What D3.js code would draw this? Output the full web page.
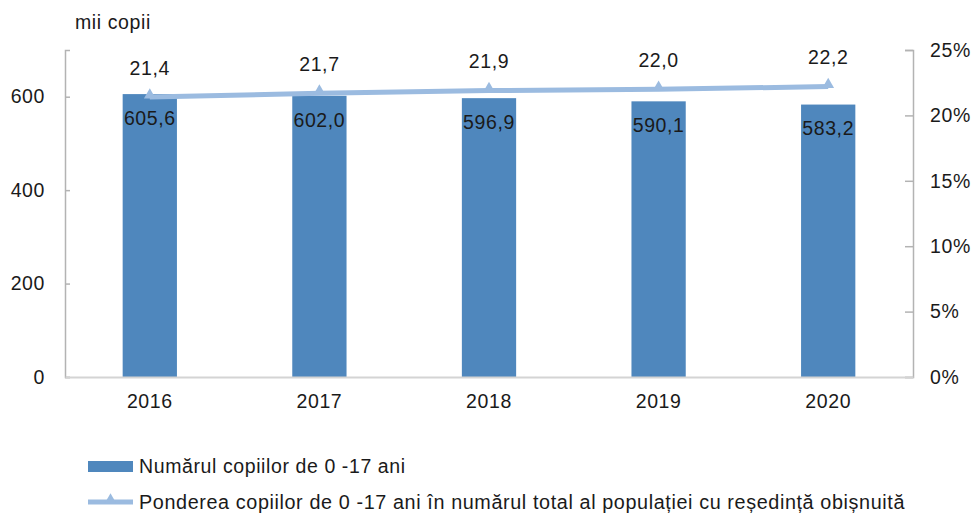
<!DOCTYPE html>
<html>
<head>
<meta charset="utf-8">
<script src="https://cdn.jsdelivr.net/npm/d3@7"></script>
<style>
  body { margin: 0; background: #fff; }
  svg text { font-family: "Liberation Sans", Arial, sans-serif; fill: #1a1a1a; letter-spacing: 0.6px; }
</style>
</head>
<body>
<svg id="chart" width="973" height="514"></svg>
<script>
// data
let years = ["2016", "2017", "2018", "2019", "2020"];
let children = [605.6, 602.0, 596.9, 590.1, 583.2];   // mii copii
let share = [21.4, 21.7, 21.9, 22.0, 22.2];           // %
let leftTicks = [0, 200, 400, 600];
let rightTicks = [0, 5, 10, 15, 20, 25];
let barLabel = "Numărul copiilor de 0 -17 ani";
let lineLabel = "Ponderea copiilor de 0 -17 ani în numărul total al populației cu reședință obișnuită";

let svg = d3.select("#chart");
let margin = {top: 50, right: 60, bottom: 137, left: 65};
let width = 973, height = 514;
let fs = 19.5;
let fmt = v => v.toFixed(1).replace(".", ",");

let x = d3.scaleBand()
          .domain(years)
          .range([margin.left, width - margin.right])
          .paddingInner(0.68)
          .paddingOuter(0.34);

let y = d3.scaleLinear()
          .domain([0, 700])
          .range([height - margin.bottom, margin.top]);

let y2 = d3.scaleLinear()
           .domain([0, 25])
           .range([height - margin.bottom, margin.top]);

// bars
svg.append("g").selectAll("rect")
   .data(children)
   .join("rect")
   .attr("x", (d, i) => x(years[i]))
   .attr("y", d => y(d))
   .attr("width", x.bandwidth())
   .attr("height", d => y(0) - y(d))
   .attr("fill", "#4f87bd");

// axes
let leftAxis = svg.append("g")
   .attr("transform", `translate(${margin.left},0)`)
   .call(d3.axisLeft(y).tickValues(leftTicks).tickSize(-5));
let rightAxis = svg.append("g")
   .attr("transform", `translate(${width - margin.right},0)`)
   .call(d3.axisRight(y2).tickValues(rightTicks).tickSize(-8).tickFormat(d => d + "%"));
[leftAxis, rightAxis].forEach(function(a) {
  a.select(".domain").attr("stroke", "#b3b3b3").attr("stroke-width", 1.5);
  a.selectAll(".tick line").attr("stroke", "#b3b3b3").attr("stroke-width", 1.5);
  a.selectAll(".tick text").attr("font-size", fs).attr("fill", "#1a1a1a");
});
leftAxis.selectAll(".tick text").attr("x", -20);
rightAxis.selectAll(".tick text").attr("x", 17);

let bottomAxis = svg.append("g")
   .attr("transform", `translate(0,${y(0)})`)
   .call(d3.axisBottom(x).tickSize(0).tickPadding(17));
bottomAxis.select(".domain").attr("stroke", "#d4d4d4").attr("stroke-width", 2);
bottomAxis.selectAll(".tick text").attr("font-size", fs).attr("fill", "#1a1a1a");

// bar value labels
svg.append("g").selectAll("text")
   .data(children)
   .join("text")
   .attr("x", (d, i) => x(years[i]) + x.bandwidth() / 2)
   .attr("y", d => y(d) + 24)
   .attr("dy", "0.35em")
   .attr("text-anchor", "middle")
   .attr("font-size", fs)
   .text(d => fmt(d));

// line
let line = d3.line()
             .x((d, i) => x(years[i]) + x.bandwidth() / 2)
             .y(d => y2(d));

svg.append("path")
   .datum(share)
   .attr("d", line)
   .attr("fill", "none")
   .attr("stroke", "#9bbbe0")
   .attr("stroke-width", 5);

let tri = d3.symbol().type(d3.symbolTriangle).size(60);
svg.append("g").selectAll("path")
   .data(share)
   .join("path")
   .attr("transform", (d, i) => `translate(${x(years[i]) + x.bandwidth() / 2},${y2(d) - 2})`)
   .attr("d", tri)
   .attr("fill", "#9bbbe0");

svg.append("g").selectAll("text")
   .data(share)
   .join("text")
   .attr("x", (d, i) => x(years[i]) + x.bandwidth() / 2)
   .attr("y", d => y2(d) - 29)
   .attr("dy", "0.35em")
   .attr("text-anchor", "middle")
   .attr("font-size", fs)
   .text(d => fmt(d));

// unit title
svg.append("text")
   .attr("x", 75)
   .attr("y", 22)
   .attr("dy", "0.35em")
   .attr("font-size", fs)
   .text("mii copii");

// legend
let legend = svg.append("g");
legend.append("rect")
      .attr("x", 88).attr("y", 461)
      .attr("width", 45).attr("height", 11)
      .attr("fill", "#4f87bd");
legend.append("text")
      .attr("x", 139).attr("y", 466)
      .attr("dy", "0.35em")
      .attr("font-size", fs)
      .text(barLabel);
legend.append("line")
      .attr("x1", 88).attr("x2", 133)
      .attr("y1", 502).attr("y2", 502)
      .attr("stroke", "#9bbbe0")
      .attr("stroke-width", 5);
legend.append("path")
      .attr("transform", "translate(110.5,500)")
      .attr("d", tri)
      .attr("fill", "#9bbbe0");
legend.append("text")
      .attr("x", 139).attr("y", 502)
      .attr("dy", "0.35em")
      .attr("font-size", fs)
      .attr("textLength", 766)
      .attr("lengthAdjust", "spacingAndGlyphs")
      .text(lineLabel);
</script>
</body>
</html>
